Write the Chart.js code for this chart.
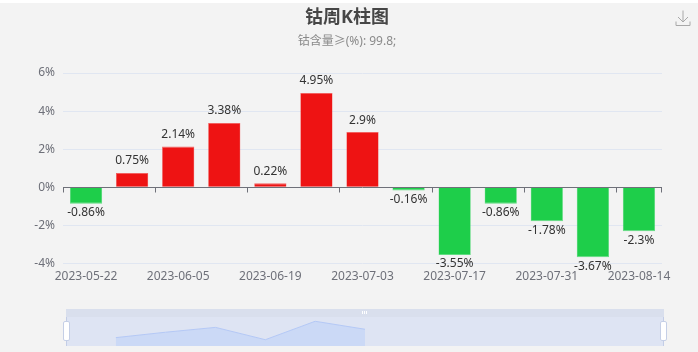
<!DOCTYPE html>
<html>
<head>
<meta charset="utf-8">
<title>钴周K柱图</title>
<script src="https://cdn.jsdelivr.net/npm/chart.js@4/dist/chart.umd.min.js"></script>
<style>
    html, body { margin: 0; padding: 0; background: #fff; overflow: hidden; }
    #wrap { position: absolute; left: 0; top: 3px; width: 698px; height: 349px; background: #f3f3f3; overflow: hidden; }
    #mainChart { position: absolute; left: 0; top: -3px; }
    #slider { position: absolute; left: 66px; top: 306px; width: 598px; height: 37px; background: #dee4f3; border-radius: 2px 2px 0 0; }
    #strip { position: absolute; left: 0; top: 0; width: 598px; height: 8px; background: #d9dfed; }
    #grip { position: absolute; left: 296px; top: 2px; width: 6px; height: 3px;
        background: repeating-linear-gradient(90deg, #fff 0 1px, #d9dfed 1px 2px); }
    #miniChart { position: absolute; left: 0; top: 0; }
    .edge { position: absolute; top: 8px; width: 1px; height: 29px; background: #c3cde6; }
    .handle { position: absolute; top: 12px; width: 5px; height: 18px; background: #fff; border: 1px solid #c5cfe6; border-radius: 2px; }
    #download { position: absolute; left: 675px; top: 7px; }
</style>
</head>
<body>
<div id="wrap">
    <canvas id="mainChart" width="698" height="352"></canvas>
    <svg id="download" width="16" height="17" viewBox="0 0 16 17" fill="none" stroke="#a8a8a8" stroke-width="1">
        <path d="M8 0.5V11.5M3 7l5 5 5-5M1 11.5V15.5H15V11.5"/>
    </svg>
    <div id="slider">
        <div id="strip"><div id="grip"></div></div>
        <canvas id="miniChart" width="598" height="37"></canvas>
        <div class="edge" style="left:0"></div>
        <div class="edge" style="left:597px"></div>
        <div class="handle" style="left:-3px"></div>
        <div class="handle" style="left:594px"></div>
    </div>
</div>

<script>
/* ===========================
Data
=========================== */

const categories = [
    "2023-05-22", "2023-05-29", "2023-06-05", "2023-06-12", "2023-06-19",
    "2023-06-26", "2023-07-03", "2023-07-10", "2023-07-17", "2023-07-24",
    "2023-07-31", "2023-08-07", "2023-08-14"
];

const changes = [-0.86, 0.75, 2.14, 3.38, 0.22, 4.95, 2.9, -0.16, -3.55, -0.86, -1.78, -3.67, -2.3];

const yTicks = [-4, -2, 0, 2, 4, 6];

const fontName = '"Noto Sans", "Noto Sans CJK SC", sans-serif';

/* ===========================
Zero line, band ticks, value labels
=========================== */

const barExtras = {
    id: "barExtras",
    afterDatasetsDraw(chart) {
        const ctx = chart.ctx;
        const x = chart.scales.x;
        const y0 = Math.round(chart.scales.y.getPixelForValue(0)) + 0.5;
        const band = (x.right - x.left) / categories.length;

        ctx.save();
        ctx.strokeStyle = "#6E7079";
        ctx.lineWidth = 1;
        ctx.beginPath();
        ctx.moveTo(x.left, y0);
        ctx.lineTo(x.right, y0);

        // ticks sit on band edges, every second band
        categories.forEach((c, i) => {
            if (i % 2 === 0) {
                const px = Math.round(x.getPixelForValue(i) - band / 2) + 0.5;
                ctx.moveTo(px, y0);
                ctx.lineTo(px, y0 + 5);
            }
        });
        ctx.moveTo(x.right - 0.5, y0);
        ctx.lineTo(x.right - 0.5, y0 + 5);
        ctx.stroke();

        ctx.font = "12px " + fontName;
        ctx.fillStyle = "#333";
        ctx.textAlign = "center";
        ctx.textBaseline = "middle";
        chart.getDatasetMeta(0).data.forEach((bar, i) => {
            const v = changes[i];
            ctx.fillText(v + "%", bar.x, bar.y + (v < 0 ? 9 : -12));
        });
        ctx.restore();
    }
};

/* ===========================
Main Chart
=========================== */

new Chart(document.getElementById("mainChart"), {
    type: "bar",
    data: {
        labels: categories,
        datasets: [{
            data: changes,
            backgroundColor: changes.map(v => v < 0 ? "#1ECE4A" : "#EE1313"),
            borderColor: changes.map(v => v < 0 ? "#5FDC80" : "#F2605F"),
            borderWidth: { top: 1, bottom: 1, left: 0.5, right: 0.5 },
            barPercentage: 0.7,
            categoryPercentage: 1
        }]
    },
    options: {
        responsive: false,
        animation: false,
        layout: { padding: { left: 32, right: 36, bottom: 70, top: 0 } },
        plugins: {
            legend: { display: false },
            tooltip: { enabled: false },
            title: {
                display: true,
                text: "钴周K柱图",
                color: "#464646",
                font: { family: fontName, size: 18, weight: "bold" },
                padding: { top: 7, bottom: 0 }
            },
            subtitle: {
                display: true,
                text: "钴含量≥(%): 99.8;",
                color: "#8a8a8a",
                font: { family: fontName, size: 12, weight: "normal" },
                padding: { top: 6, bottom: 24 }
            }
        },
        scales: {
            x: {
                grid: { display: false },
                border: { display: false },
                ticks: {
                    color: "#6E7079",
                    font: { family: fontName, size: 12 },
                    autoSkip: false,
                    maxRotation: 0,
                    padding: -2,
                    callback: function (value, index) {
                        return index % 2 === 0 ? categories[index] : "";
                    }
                },
                afterFit: function (scale) {
                    scale.paddingLeft = 0;
                    scale.paddingRight = 0;
                }
            },
            y: {
                min: yTicks[0],
                max: yTicks[yTicks.length - 1],
                afterBuildTicks: function (scale) {
                    scale.ticks = yTicks.map(v => ({ value: v }));
                },
                grid: {
                    color: ctx => ctx.tick.value === 0 ? "rgba(0,0,0,0)" : "#E0E6F1",
                    drawTicks: false
                },
                border: { display: false },
                ticks: {
                    color: "#6E7079",
                    font: { family: fontName, size: 12 },
                    padding: 8,
                    callback: v => v + "%"
                },
                afterFit: function (scale) {
                    scale.width = 31;
                }
            }
        }
    },
    plugins: [barExtras]
});

/* ===========================
Slider preview
=========================== */

new Chart(document.getElementById("miniChart"), {
    type: "line",
    data: {
        labels: categories,
        datasets: [{
            data: changes.map(v => v > 0 ? v : null),
            borderColor: "#B4C8F5",
            borderWidth: 1,
            backgroundColor: "#CBD9F6",
            fill: "start",
            pointRadius: 0,
            tension: 0,
            spanGaps: false
        }]
    },
    options: {
        responsive: false,
        animation: false,
        plugins: { legend: { display: false }, tooltip: { enabled: false } },
        scales: {
            x: { display: false },
            y: { display: false, min: -1.4, max: 8.1 }
        }
    }
});
</script>
</body>
</html>
